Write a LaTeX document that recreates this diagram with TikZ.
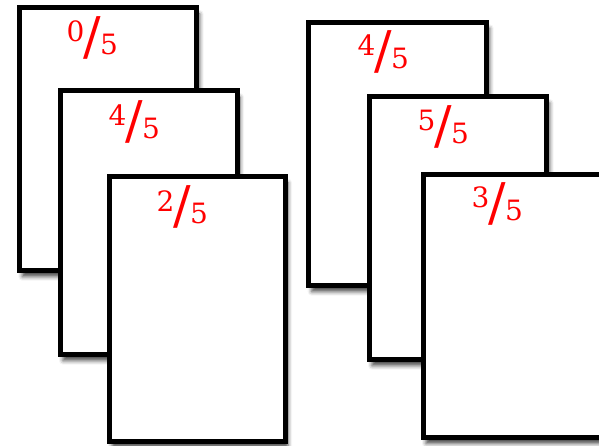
\documentclass[tikz,border=0pt]{standalone}
\usepackage{fontspec}
\usetikzlibrary{shadows.blur}
\newfontfamily\fracfont{DejaVu Serif}

% a fraction written with a slanted bar
\newcommand{\slashfrac}[2]{\raisebox{13pt}{#1}\kern-1pt{\fontsize{52}{52}\selectfont/}\kern-1pt\raisebox{0pt}{#2}}

\tikzset{
  card/.style={draw=black, line width=5pt, fill=white, rectangle, inner sep=0, outer sep=0,
    anchor=north west,
    blur shadow={shadow xshift=3pt, shadow yshift=-6pt, shadow blur radius=4pt, shadow opacity=70}},
  frac/.style={text=red, inner sep=0, anchor=base west, font=\fracfont\fontsize{28}{28}\selectfont},
}

\begin{document}
\begin{tikzpicture}[x=1pt,y=-1pt]
  \useasboundingbox (0,0) rectangle (599,446);
  \clip (0,0) rectangle (599,446);

  % left stack
  \node[card, minimum width=177.4pt, minimum height=262.7pt] (cardA) at (19.3,8) {};
  \node[frac] (fracA) at (66.5,55) {\slashfrac{0}{5}};
  \node[card, minimum width=177pt, minimum height=263.7pt] (cardB) at (60,91) {};
  \node[frac] (fracB) at (108.5,139) {\slashfrac{4}{5}};
  \node[card, minimum width=176pt, minimum height=264.6pt] (cardC) at (109,176.7) {};
  \node[frac] (fracC) at (156.5,224) {\slashfrac{2}{5}};

  % right stack
  \node[card, minimum width=178pt, minimum height=263.4pt] (cardD) at (308.7,22.3) {};
  \node[frac] (fracD) at (357.5,69) {\slashfrac{4}{5}};
  \node[card, minimum width=177.7pt, minimum height=262.7pt] (cardE) at (369,97) {};
  \node[frac] (fracE) at (417.5,144) {\slashfrac{5}{5}};
  \node[card, minimum width=190pt, minimum height=262.6pt] (cardF) at (423,175) {};
  \node[frac] (fracF) at (471.5,221) {\slashfrac{3}{5}};
\end{tikzpicture}
\end{document}
